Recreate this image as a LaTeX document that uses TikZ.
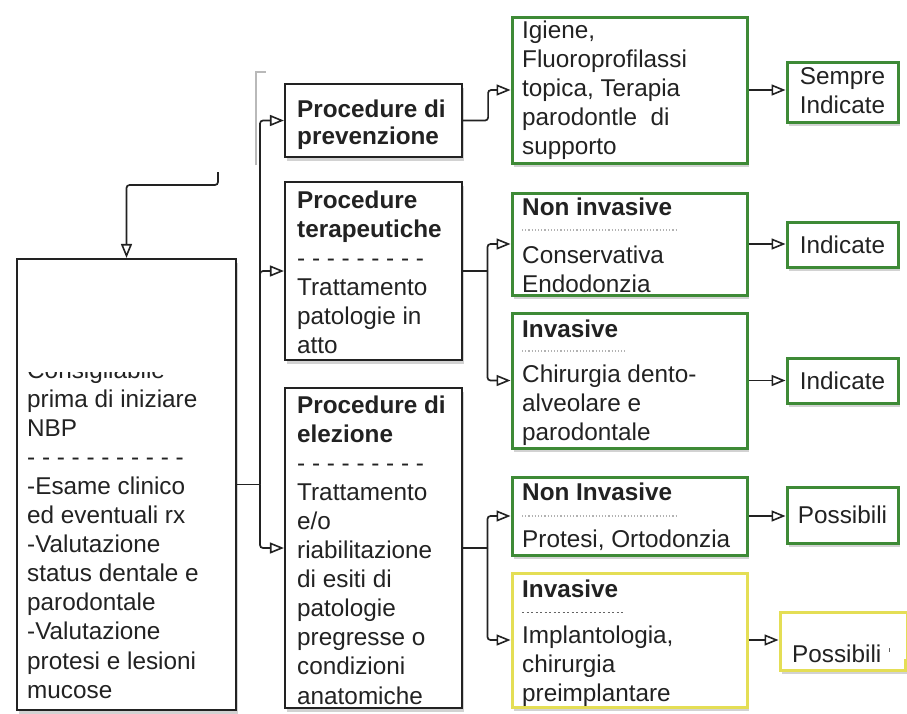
\documentclass[tikz,border=0pt]{standalone}
\usepackage{fontspec}
\setmainfont{Liberation Sans}
\usetikzlibrary{arrows.meta,shadows}
\definecolor{ink}{HTML}{222222}
\definecolor{grn}{HTML}{3E8A36}
\definecolor{ylw}{HTML}{E4DE55}
\begin{document}
\begin{tikzpicture}[x=1pt,y=-1pt,
  box/.style={draw=ink, line width=2.2pt, fill=white, inner sep=0pt,
    drop shadow={opacity=0.35, shadow xshift=1.5pt, shadow yshift=-3.5pt}},
  gbox/.style={box, draw=grn, line width=3pt},
  ybox/.style={box, draw=ylw, line width=3pt},
  tx/.style={inner sep=0pt, anchor=base west, text=ink,
    font=\fontsize{24.3pt}{29.1pt}\selectfont},
  link/.style={draw=ink, line width=1.7pt},
  arr/.style={link, rounded corners=3pt,
    -{Triangle[open, length=14pt, width=11pt, line width=1.6pt]}},
  dots/.style={draw=gray!60, dotted, line width=1.2pt}
]
\useasboundingbox (0,0) rectangle (907,713);
\fill[white] (0,0) rectangle (907,713);
% faint screenshot edge
\draw[gray!55, line width=1.4pt] (256,165) -- (256,72) -- (266,72);

% boxes
\node[box, minimum width=219, minimum height=451] (L) at (126.5,484.5) {};
\node[box, minimum width=177, minimum height=73] (P) at (373.5,120.5) {};
\node[box, minimum width=177, minimum height=178] (T) at (373.5,271) {};
\node[box, minimum width=177, minimum height=320] (E) at (373.5,548) {};
\node[gbox, minimum width=235, minimum height=146] (G1) at (629.5,90) {};
\node[gbox, minimum width=235, minimum height=102] (N1) at (629.5,244) {};
\node[gbox, minimum width=235, minimum height=135] (I1) at (629.5,380.5) {};
\node[gbox, minimum width=235, minimum height=78] (N2) at (629.5,516) {};
\node[ybox, minimum width=235, minimum height=134] (Y1) at (629.5,640) {};
\node[gbox, minimum width=111, minimum height=60] (S1) at (842.5,92) {};
\node[gbox, minimum width=111, minimum height=45] (D1) at (842.5,244.5) {};
\node[gbox, minimum width=111, minimum height=45] (D2) at (842.5,380.5) {};
\node[gbox, minimum width=111, minimum height=56] (P1) at (842.5,515) {};
\node[ybox, minimum width=125, minimum height=58] (P2) at (842.5,641) {};

% left box text
\node[tx] (tL) at (27,378) {\parbox[t]{205pt}{Consigliabile\\prima di iniziare\\NBP\\- - - - - - - - - - -\\-Esame clinico\\ed eventuali rx\\-Valutazione\\status dentale e\\parodontale\\-Valutazione\\protesi e lesioni\\mucose}};
\fill[white] (19,262) rectangle (233,372);

% middle texts
\node[tx] (tP) at (297,117) {\parbox[t]{165pt}{\fontsize{24.3pt}{27pt}\selectfont\textbf{Procedure di}\\\textbf{prevenzione}}};
\node[tx] (tT) at (297,208) {\parbox[t]{165pt}{\textbf{Procedure}\\\textbf{terapeutiche}\\- - - - - - - - -\\Trattamento\\patologie in\\atto}};
\node[tx] (tE) at (297,413) {\parbox[t]{165pt}{\textbf{Procedure di}\\\textbf{elezione}\\- - - - - - - - -\\Trattamento\\e/o\\riabilitazione\\di esiti di\\patologie\\pregresse o\\condizioni\\anatomiche}};

% green / yellow texts
\node[tx] (tG1) at (522,38) {\parbox[t]{222pt}{Igiene,\\Fluoroprofilassi\\topica, Terapia\\parodontle\ \ di\\supporto}};
\node[tx] (tN1a) at (522,215) {\textbf{Non invasive}};
\draw[dots] (522,230) -- (677,230);
\node[tx] (tN1b) at (522,263) {\parbox[t]{222pt}{Conservativa\\Endodonzia}};
\node[tx] (tI1a) at (522,337) {\textbf{Invasive}};
\draw[dots] (522,351) -- (625,351);
\node[tx] (tI1b) at (522,382) {\parbox[t]{222pt}{Chirurgia dento-\\alveolare e\\parodontale}};
\node[tx] (tN2a) at (522,500) {\textbf{Non Invasive}};
\draw[dots] (522,516) -- (677,516);
\node[tx] (tN2b) at (522,547) {Protesi, Ortodonzia};
\node[tx] (tY1a) at (522,597) {\textbf{Invasive}};
\draw[draw=ink!70, dash pattern=on 2pt off 2.5pt, line width=0.8pt] (522,612) -- (623,612);
\node[tx] (tY1b) at (522,643) {\parbox[t]{222pt}{Implantologia,\\chirurgia\\preimplantare}};

% right texts
\node[tx, anchor=base] (tS1) at (842.5,84) {\parbox[t]{100pt}{\centering Sempre\\Indicate}};
\node[tx, anchor=base] (tD1) at (842.5,253) {Indicate};
\node[tx, anchor=base] (tD2) at (842.5,389) {Indicate};
\node[tx, anchor=base] (tP1) at (842.5,523) {Possibili};
\node[tx] (tP2) at (792,662) {Possibili};
\fill[white] (882,614) rectangle (906,659);
\draw[ink!70, line width=1pt] (889,648) -- (889,652);

% incoming arrow to left box
\coordinate (in0) at (218,172);
\draw[arr] (in0) -- (218,185) -- (L.north |- 0,185) -- (L.north);

% trunk
\coordinate (tr) at (260,484.5);
\draw[link] (L.east) -- (tr);
\draw[arr] (tr) |- (P.west);
\draw[arr] (tr) |- (T.west);
\draw[arr] (tr) |- (E.west);

% second level
\draw[arr] (P.east) -- ++(25,0) |- (G1.west);
\coordinate (tT) at (487.5,271);
\draw[link] (T.east) -- (tT);
\draw[arr] (tT) |- (N1.west);
\draw[arr] (tT) |- (I1.west);
\coordinate (tE2) at (487.5,548);
\draw[link] (E.east) -- (tE2);
\draw[arr] (tE2) |- (N2.west);
\draw[arr] (tE2) |- (Y1.west);

% third level
\draw[arr] (G1.east) -- (G1.east -| S1.west);
\draw[arr] (N1.east) -- (N1.east -| D1.west);
\draw[arr] (I1.east) -- (I1.east -| D2.west);
\draw[arr] (N2.east) -- (N2.east -| P1.west);
\draw[arr] (Y1.east) -- (Y1.east -| P2.west);
\end{tikzpicture}
\end{document}
